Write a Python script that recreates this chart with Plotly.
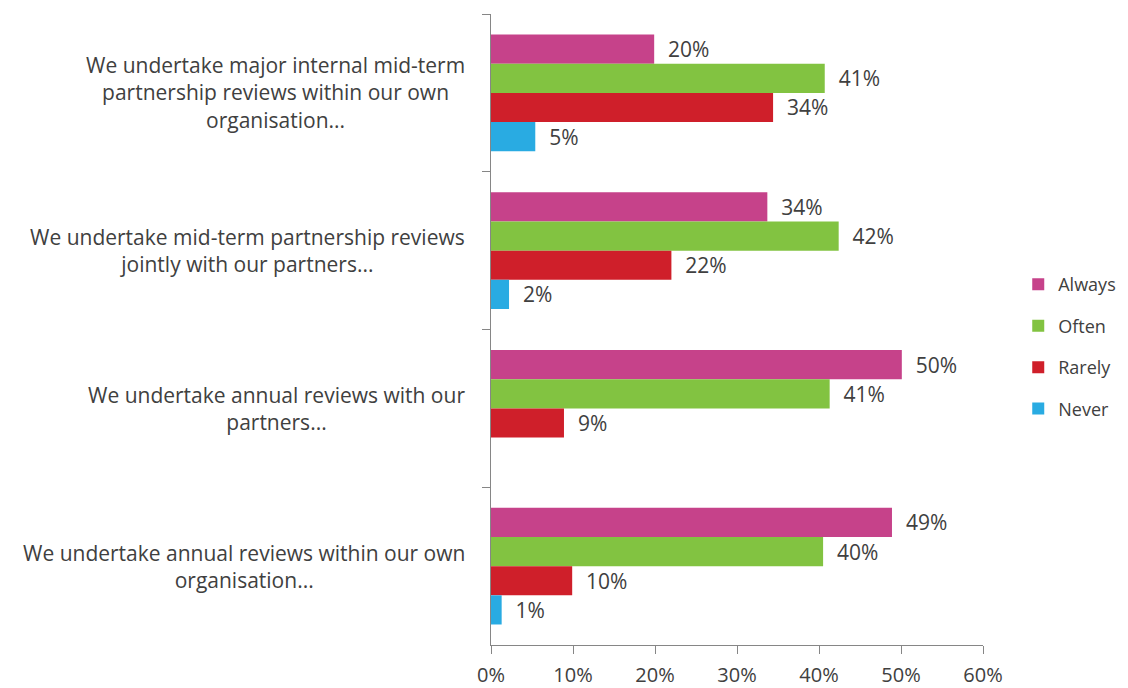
import plotly.graph_objects as go

categories = [
    "We undertake major internal mid-term<br>partnership reviews within our own<br>organisation...",
    "We undertake mid-term partnership reviews<br>jointly with our partners...",
    "We undertake annual reviews with our<br>partners...",
    "We undertake annual reviews within our own<br>organisation...",
]
cat_keys = ["c1", "c2", "c3", "c4"]
series_names = ["Always", "Often", "Rarely", "Never"]
always = [19.9, 33.7, 50.1, 48.9]
often = [40.7, 42.4, 41.3, 40.5]
rarely = [34.4, 22.0, 8.9, 9.9]
never = [5.4, 2.2, None, 1.3]
series_values = [always, often, rarely, never]
colors = ["#C6428A", "#82C341", "#CF1F2A", "#29ABE2"]
x_ticks = [0, 10, 20, 30, 40, 50, 60]
x_tick_labels = [f"{t}%" for t in x_ticks]

FONT = "Open Sans"
TXT = "#404040"
NB = "\u00a0"

fig = go.Figure()
for name, vals, col in zip(series_names, series_values, colors):
    fig.add_trace(go.Bar(
        y=cat_keys, x=vals, name=name, orientation="h",
        marker=dict(color=col, line=dict(width=0)),
        text=[(NB * 2 + f"{v:.0f}%") if v is not None else "" for v in vals],
        textposition="outside", constraintext="none", cliponaxis=False,
        textfont=dict(family=FONT, size=21, color=TXT),
        legendgroup=name,
    ))

for key, label in zip(cat_keys, categories):
    fig.add_annotation(
        x=-0.049, xref="paper", y=key, yref="y", xanchor="right", yanchor="middle",
        text=label, align="center", showarrow=False,
        font=dict(family=FONT, size=21, color=TXT),
    )

fig.update_layout(
    width=1120, height=680,
    margin=dict(l=483, r=145, t=6, b=43),
    paper_bgcolor="white", plot_bgcolor="white",
    barmode="group", bargap=0.26, bargroupgap=0,
    font=dict(family=FONT, color=TXT),
    legend=dict(
        xref="container", x=0.902, xanchor="left",
        yref="container", y=0.502, yanchor="middle",
        font=dict(family=FONT, size=18, color=TXT),
        tracegroupgap=15, itemwidth=30,
    ),
    xaxis=dict(
        range=[0, 60], tickvals=x_ticks, ticktext=x_tick_labels,
        showgrid=False, zeroline=False, showline=True, linecolor="#868686", linewidth=1,
        ticks="outside", ticklen=8, tickcolor="#868686", ticklabelstandoff=4,
        automargin=False,
        tickfont=dict(family=FONT, size=20, color=TXT),
    ),
    yaxis=dict(
        categoryorder="array", categoryarray=cat_keys, autorange="reversed",
        showticklabels=False, showgrid=False, zeroline=False, automargin=False,
        showline=True, linecolor="#868686", linewidth=1,
        ticks="outside", ticklen=8, tickcolor="#868686", tickson="boundaries",
    ),
)

fig.write_html("out.html")
